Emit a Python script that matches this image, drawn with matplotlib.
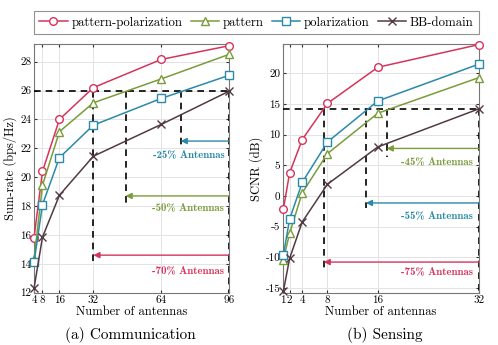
import matplotlib
matplotlib.use('Agg')
import matplotlib.pyplot as plt

plt.rcParams['font.family'] = ['cmr10', 'DejaVu Serif']
plt.rcParams['axes.unicode_minus'] = False
plt.rcParams['mathtext.fontset'] = 'cm'

# Communication data
comm_x = [4, 8, 16, 32, 64, 96]
comm_pp = [15.8, 20.4, 24.0, 26.2, 28.15, 29.1]
comm_pat = [14.3, 19.45, 23.15, 25.15, 26.8, 28.5]
comm_pol = [14.1, 18.1, 21.35, 23.6, 25.45, 27.05]
comm_bb = [12.3, 15.85, 18.75, 21.45, 23.65, 25.95]
comm_xticks = [4, 8, 16, 32, 64, 96]
comm_yticks = [12, 14, 16, 18, 20, 22, 24, 26, 28]

# Sensing data
sens_x = [1, 2, 4, 8, 16, 32]
sens_pp = [-2.2, 3.75, 9.2, 15.1, 21.0, 24.7]
sens_pat = [-10.5, -6.1, 0.5, 6.9, 13.5, 19.3]
sens_pol = [-9.7, -3.8, 2.2, 8.8, 15.5, 21.5]
sens_bb = [-15.6, -10.2, -4.25, 1.9, 8.0, 14.2]
sens_xticks = [1, 2, 4, 8, 16, 32]
sens_yticks = [-15, -10, -5, 0, 5, 10, 15, 20]

labels = ['pattern-polarization', 'pattern', 'polarization', 'BB-domain']
colors = ['#d5345c', '#7a9c3a', '#2a8aa8', '#523a42']
markers = ['o', '^', 's', 'x']

fig = plt.figure(figsize=(4.98, 3.45), dpi=100)
ax1 = fig.add_axes([0.0683, 0.1516, 0.3915, 0.72])
ax2 = fig.add_axes([0.5689, 0.1516, 0.3923, 0.72])


def draw_series(ax, x, series):
    handles = []
    for ys, c, m, lab in zip(series, colors, markers, labels):
        h, = ax.plot(x, ys, color=c, marker=m, markersize=5.5, lw=1.1,
                     markerfacecolor='white' if m != 'x' else c,
                     markeredgewidth=1.0, label=lab, clip_on=False, zorder=4)
        handles.append(h)
    return handles


def style(ax):
    ax.grid(True, color='#e3e3e3', lw=0.7)
    ax.set_axisbelow(True)
    ax.tick_params(direction='in', length=2.5, labelsize=8, pad=2,
                   top=True, right=True, color='#333333')
    for s in ax.spines.values():
        s.set_color('#777777')
        s.set_linewidth(0.8)


dash = dict(color='black', lw=1.2, ls=(0, (4, 3)), zorder=3)
bold = ['cmb10', 'DejaVu Serif']

# (a) Communication
handles = draw_series(ax1, comm_x, [comm_pp, comm_pat, comm_pol, comm_bb])
ax1.set_xlim(4, 96)
ax1.set_ylim(12, 29.2)
ax1.set_xticks(comm_xticks)
ax1.set_yticks(comm_yticks)
style(ax1)
ax1.plot([4, 96], [26, 26], **dash)
ax1.plot([96, 96], [26, 12], **dash)
ax1.plot([32, 32], [26, 14.0], **dash)
ax1.plot([47.2, 47.2], [26, 18.0], **dash)
ax1.plot([73.2, 73.2], [26, 22.0], **dash)
for xt, ya, yt, c, txt in [(73.2, 22.5, 21.6, colors[2], '-25% Antennas'),
                            (47.2, 18.7, 17.9, colors[1], '-50% Antennas'),
                            (32, 14.6, 13.55, colors[0], '-70% Antennas')]:
    ax1.annotate('', xy=(xt, ya), xytext=(96, ya),
                 arrowprops=dict(arrowstyle='-|>', color=c, lw=1.0,
                                 mutation_scale=9, shrinkA=0, shrinkB=0))
    ax1.text(93.8, yt, txt, color=c, ha='right', va='center',
             fontsize=7.8, family=bold)
ax1.set_xlabel('Number of antennas', fontsize=9, labelpad=0.5)
ax1.set_ylabel('Sum-rate (bps/Hz)', fontsize=9, labelpad=2)

# (b) Sensing
draw_series(ax2, sens_x, [sens_pp, sens_pat, sens_pol, sens_bb])
ax2.set_xlim(1, 32)
ax2.set_ylim(-15.8, 24.75)
ax2.set_xticks(sens_xticks)
ax2.set_yticks(sens_yticks)
style(ax2)
ax2.plot([1, 32], [14.2, 14.2], **dash)
ax2.plot([32, 32], [14.2, -15.8], **dash)
ax2.plot([7.4, 7.4], [14.2, -12.0], **dash)
ax2.plot([14.1, 14.1], [14.2, -1.9], **dash)
ax2.plot([17.4, 17.4], [14.2, 6.4], **dash)
for xt, ya, yt, c, txt in [(17.4, 7.75, 5.7, colors[1], '-45% Antennas'),
                            (14.1, -1.15, -3.2, colors[2], '-55% Antennas'),
                            (7.4, -10.8, -12.3, colors[0], '-75% Antennas')]:
    ax2.annotate('', xy=(xt, ya), xytext=(32, ya),
                 arrowprops=dict(arrowstyle='-|>', color=c, lw=1.0,
                                 mutation_scale=9, shrinkA=0, shrinkB=0))
    ax2.text(31.05, yt, txt, color=c, ha='right', va='center',
             fontsize=7.8, family=bold)
ax2.set_xlabel('Number of antennas', fontsize=9, labelpad=0.5)
ax2.set_ylabel('SCNR (dB)', fontsize=9, labelpad=2)

fig.text(0.262, 0.029, '(a) Communication', ha='center', va='center', fontsize=11)
fig.text(0.773, 0.029, '(b) Sensing', ha='center', va='center', fontsize=11)

leg = fig.legend(handles=handles, loc='lower left', ncol=4, mode='expand',
                 bbox_to_anchor=(0.0689, 0.902, 0.8924, 0.079),
                 fontsize=9.2, frameon=True, fancybox=False, handlelength=2.2,
                 handletextpad=0.3, columnspacing=0.8, borderaxespad=0)
leg.get_frame().set_edgecolor('#777777')
leg.get_frame().set_linewidth(0.8)

fig.savefig('out.png', dpi=100)
